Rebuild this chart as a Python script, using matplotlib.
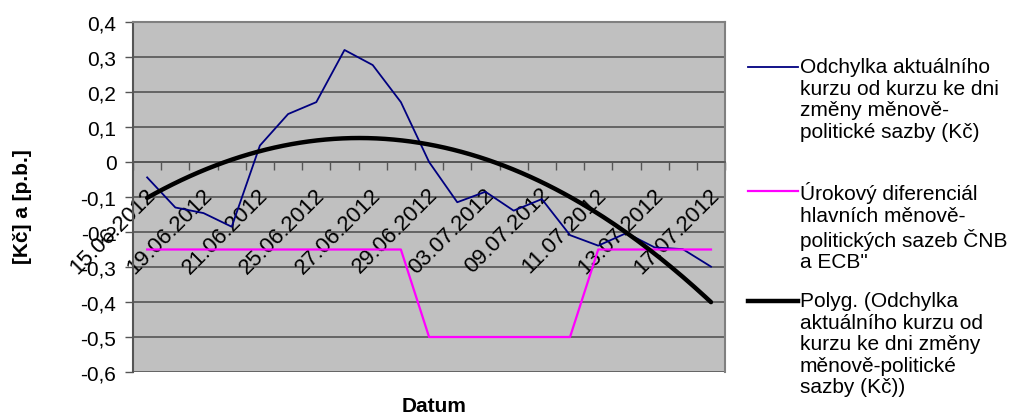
import matplotlib.pyplot as plt
import numpy as np
from matplotlib.lines import Line2D
from matplotlib.ticker import FixedLocator, FuncFormatter, NullFormatter

plt.rcParams['font.family'] = ['Liberation Sans', 'DejaVu Sans']

# trading days (every second one gets a label)
dates = ['15.06.2012', '18.06.2012', '19.06.2012', '20.06.2012', '21.06.2012',
         '22.06.2012', '25.06.2012', '26.06.2012', '27.06.2012', '28.06.2012',
         '29.06.2012', '02.07.2012', '03.07.2012', '04.07.2012', '09.07.2012',
         '10.07.2012', '11.07.2012', '12.07.2012', '13.07.2012', '16.07.2012',
         '17.07.2012']

# deviation of the current rate from the rate on the day of the rate change (CZK)
odchylka = [-0.044, -0.130, -0.146, -0.185, 0.047, 0.137, 0.171, 0.320, 0.277,
            0.171, 0.000, -0.115, -0.085, -0.139, -0.106, -0.209, -0.239,
            -0.203, -0.244, -0.249, -0.299]

# CNB - ECB main rate differential (p.p.)
diferencial = [-0.25, -0.25, -0.25, -0.25, -0.25, -0.25, -0.25, -0.25, -0.25,
               -0.25, -0.50, -0.50, -0.50, -0.50, -0.50, -0.50, -0.25, -0.25,
               -0.25, -0.25, -0.25]

y_ticks = [-0.6, -0.5, -0.4, -0.3, -0.2, -0.1, 0.0, 0.1, 0.2, 0.3, 0.4]

lbl_odch = 'Odchylka aktuálního\nkurzu od kurzu ke dni\nzměny měnově-\npolitické sazby (Kč)'
lbl_dif = 'Úrokový diferenciál\nhlavních měnově-\npolitických sazeb ČNB\na ECB"'
lbl_poly = 'Polyg. (Odchylka\naktuálního kurzu od\nkurzu ke dni změny\nměnově-politické\nsazby (Kč))'

FS = 15

x = np.arange(len(dates))

# 2nd order polynomial trend of the deviation series
coef = np.polyfit(x + 1, odchylka, 2)
xs = np.linspace(0, len(dates) - 1, 200)
trend = np.polyval(coef, xs + 1)

fig = plt.figure(figsize=(10.11, 4.14), dpi=100)
ax = fig.add_axes([0.1316, 0.099, 0.5856, 0.8455])
ax.set_facecolor('#c0c0c0')

ax.plot(x, odchylka, color='#000080', lw=1.3, zorder=3)
ax.plot(x, diferencial, color='#ff00ff', lw=1.6, zorder=3)
ax.plot(xs, trend, color='black', lw=3.2, zorder=4, solid_capstyle='round')

ax.set_xlim(-0.5, len(dates) - 0.5)
ax.set_ylim(-0.6, 0.4)
ax.set_yticks(y_ticks)
ax.yaxis.set_major_formatter(FuncFormatter(
    lambda v, p: '0' if abs(v) < 1e-9 else f'{v:.1f}'.replace('.', ',')))
ax.grid(axis='y', color='#555555', lw=1.2, zorder=1)
ax.set_axisbelow(True)
ax.tick_params(axis='y', direction='out', length=6, width=1, color='#555555',
               labelsize=FS, pad=6)

# category axis crosses at zero, tick marks between categories
ax.spines['bottom'].set_position(('data', 0))
ax.spines['bottom'].set_color('#555555')
ax.spines['bottom'].set_linewidth(1.2)
ax.xaxis.set_major_locator(FixedLocator(np.arange(len(dates) + 1) - 0.5))
ax.xaxis.set_major_formatter(NullFormatter())
ax.tick_params(axis='x', which='major', direction='out', length=6, width=1,
               color='#555555')

# date labels hang diagonally below the zero line, every second category
for i in x[::2]:
    ax.annotate(dates[i], (i, 0), xytext=(-1.5, -15.5), textcoords='offset points',
                rotation=45, rotation_mode='anchor', ha='right', va='top',
                fontsize=16, zorder=2.5, annotation_clip=False)

for s in ['top', 'right', 'left']:
    ax.spines[s].set_color('#808080')
    ax.spines[s].set_linewidth(1.5)
ax.spines['left'].set_color('#555555')

fig.text(0.022, 0.50, '[Kč] a [p.b.]', rotation=90, ha='center', va='center',
         fontsize=FS, fontweight='bold')
fig.text(0.429, 0.006, 'Datum', ha='center', va='baseline', fontsize=FS,
         fontweight='bold')

# legend drawn by hand so the key sits on the first text line
entries = [(lbl_odch, '#000080', 1.3, 68), (lbl_dif, '#ff00ff', 1.6, 192),
           (lbl_poly, 'black', 3.2, 302)]
W, H = 1011, 414
for text, col, lw, ypx in entries:
    fig.add_artist(Line2D([748 / W, 798 / W], [1 - ypx / H, 1 - ypx / H],
                          color=col, lw=lw, transform=fig.transFigure))
    fig.text(800 / W, 1 - (ypx - 10) / H, text, ha='left', va='top',
             fontsize=FS, linespacing=1.17)

fig.savefig('out.png', dpi=100)
